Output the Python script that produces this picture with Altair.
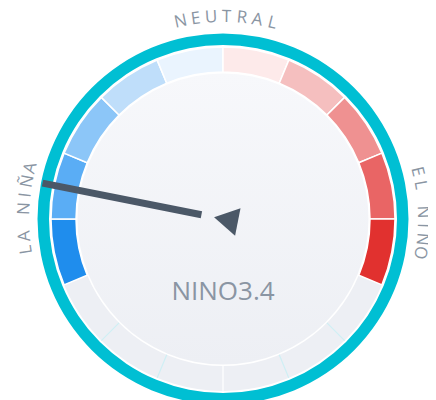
import math
import altair as alt
import pandas as pd

# ---- data ----
zone_bounds = [-2.5, -2.0, -1.5, -1.0, -0.5, 0.0, 0.5, 1.0, 1.5, 2.0, 2.5]
zone_colors = ["#1f8ded", "#5aadf5", "#8cc6f8", "#bfdefa", "#eaf4fe",
               "#fdeaea", "#f5bfbf", "#ef9191", "#e96565", "#e1312f"]
idle_bounds = [2.5, 3.0, 3.5, 4.0, 4.5, 5.0, 5.5]   # grey remainder of the dial
idle_color = "#edeff4"
nino34_value = -1.75
gauge_max = 2.5
sweep_deg = 112.5

labels = ["LA NIÑA", "NEUTRAL", "EL NIÑO"]
label_center_deg = [-87.0, 1.0, 88.0]
label_step_deg = [3.95, 4.37, 3.9]
label_radius = [199, 202, 200]
center_label = "NINO3.4"

# ---- layout ----
CX, CY = 215, 211
TEAL = "#00bfd3"
INK = "#4b5867"
TEXT = "#8a95a3"
FONT = "Open Sans"
R_BAND_OUT, R_BAND_IN = 172.0, 147.0


def to_deg(v):
    return v / gauge_max * sweep_deg


def polar(r, deg):
    a = math.radians(deg)
    return CX + r * math.sin(a), CY - r * math.cos(a)


# background disk + teal ring
rings = pd.DataFrame({
    "t1": [0.0, 0.0], "t2": [2 * math.pi, 2 * math.pi],
    "r1": [174.0, 185.5], "r2": [0.0, 174.0],
    "color": ["#ffffff", TEAL],
})

# coloured band segments
zone_rows = []
for i, c in enumerate(zone_colors):
    zone_rows.append({"t1": math.radians(to_deg(zone_bounds[i])),
                      "t2": math.radians(to_deg(zone_bounds[i + 1])),
                      "r1": R_BAND_OUT, "r2": R_BAND_IN, "color": c})
zones = pd.DataFrame(zone_rows)

# grey remainder as one arc + faint separators
idle = pd.DataFrame({"t1": [math.radians(to_deg(idle_bounds[0]))],
                     "t2": [math.radians(to_deg(idle_bounds[-1]))],
                     "r1": [R_BAND_OUT], "r2": [R_BAND_IN], "color": [idle_color]})
sep_rows = []
for b in idle_bounds[1:-1]:
    x1, y1 = polar(R_BAND_IN, to_deg(b))
    x2, y2 = polar(R_BAND_OUT, to_deg(b))
    sep_rows.append({"x1": x1, "y1": y1, "x2": x2, "y2": y2,
                     "c": "#ffffff" if abs(to_deg(b) - 180) < 1e-6 else "#cfeff4"})
seps = pd.DataFrame(sep_rows)

inner = pd.DataFrame({"t1": [0.0], "t2": [2 * math.pi], "r1": [145.5], "r2": [0.0]})


def arc_enc(ch):
    return ch.encode(
        theta=alt.Theta("t1:Q", scale=None, stack=None),
        theta2="t2:Q",
        radius=alt.Radius("r1:Q", scale=None),
        radius2="r2:Q",
        x=alt.value(CX), y=alt.value(CY),
    )


ring_layer = arc_enc(alt.Chart(rings).mark_arc()).encode(
    color=alt.Color("color:N", scale=None))
idle_layer = arc_enc(alt.Chart(idle).mark_arc()).encode(
    color=alt.Color("color:N", scale=None))
sep_layer = alt.Chart(seps).mark_rule(strokeWidth=1.2).encode(
    x=alt.X("x1:Q", scale=None, axis=None), y=alt.Y("y1:Q", scale=None, axis=None),
    x2="x2:Q", y2="y2:Q", color=alt.Color("c:N", scale=None))
zone_layer = arc_enc(alt.Chart(zones).mark_arc(stroke="#ffffff", strokeWidth=1.5)).encode(
    color=alt.Color("color:N", scale=None))
inner_layer = arc_enc(alt.Chart(inner).mark_arc(
    color=alt.Gradient(gradient="linear",
                       stops=[alt.GradientStop(color="#f7f8fb", offset=0),
                              alt.GradientStop(color="#edeff4", offset=1)],
                       x1=0, x2=0, y1=0, y2=1)))

# needle
needle_deg = to_deg(nino34_value)
nx1, ny1 = polar(22, needle_deg)
nx2, ny2 = polar(184, needle_deg)
needle = pd.DataFrame({"x1": [nx1], "y1": [ny1], "x2": [nx2], "y2": [ny2]})
needle_layer = alt.Chart(needle).mark_rule(strokeWidth=7, color=INK, strokeCap="butt").encode(
    x=alt.X("x1:Q", scale=None, axis=None), y=alt.Y("y1:Q", scale=None, axis=None),
    x2="x2:Q", y2="y2:Q")

tx, ty = polar(-3, needle_deg)
tri = pd.DataFrame({"x": [tx], "y": [ty], "ang": [needle_deg % 360]})
tri_layer = alt.Chart(tri).mark_point(shape="triangle-up", filled=True, size=780,
                                      color=INK, opacity=1).encode(
    x=alt.X("x:Q", scale=None, axis=None), y=alt.Y("y:Q", scale=None, axis=None),
    angle=alt.Angle("ang:Q", scale=None))

# curved labels
letter_rows = []
for text, cdeg, step, r in zip(labels, label_center_deg, label_step_deg, label_radius):
    n = len(text)
    for k, ch in enumerate(text):
        d = cdeg + (k - (n - 1) / 2) * step
        x, y = polar(r, d)
        letter_rows.append({"x": x, "y": y, "ch": ch, "ang": d % 360})
letters = pd.DataFrame(letter_rows)
letter_layer = alt.Chart(letters).mark_text(
    font=FONT, fontSize=17, color=TEXT, baseline="middle", align="center").encode(
    x=alt.X("x:Q", scale=None, axis=None), y=alt.Y("y:Q", scale=None, axis=None),
    angle=alt.Angle("ang:Q", scale=None), text="ch:N")

cl_x, cl_y = polar(73, 180)
center_df = pd.DataFrame({"x": [cl_x], "y": [cl_y], "t": [center_label]})
center_layer = alt.Chart(center_df).mark_text(
    font=FONT, fontSize=26, color=TEXT, baseline="middle", align="center").encode(
    x=alt.X("x:Q", scale=None, axis=None), y=alt.Y("y:Q", scale=None, axis=None),
    text="t:N")

chart = alt.layer(ring_layer, idle_layer, sep_layer, zone_layer, inner_layer, needle_layer,
                  tri_layer, letter_layer, center_layer).properties(
    width=420, height=392, padding=0,
    autosize=alt.AutoSizeParams(type="none"),
).configure_view(stroke=None)

chart.save("out.html", embed_options={"renderer": "svg", "actions": False})
